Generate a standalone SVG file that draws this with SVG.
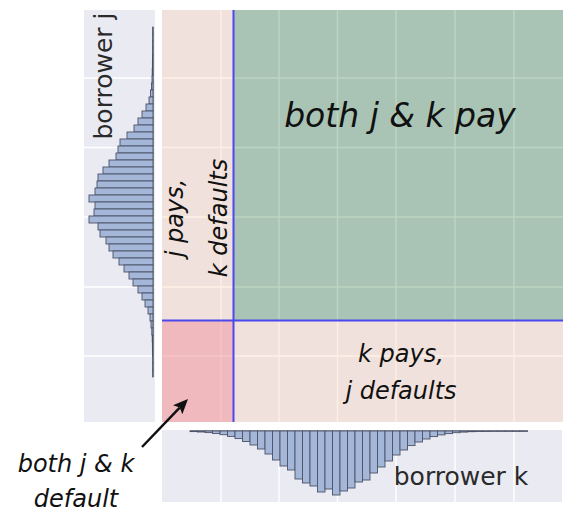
<svg xmlns="http://www.w3.org/2000/svg" xmlns:xlink="http://www.w3.org/1999/xlink" width="563" height="513" viewBox="0 0 563 513">
<style>
.panel{fill:#eaeaf2}
.wg{stroke:#ffffff;stroke-width:1.4}
.bar{fill:#a4b7d8;stroke:#4c5266;stroke-width:0.9}
.base{stroke:#4c5266;stroke-width:1}
.lab{font-family:"DejaVu Sans",sans-serif;font-style:oblique;fill:#111}
.ax{font-family:"DejaVu Sans",sans-serif;fill:#2a2a2a;font-size:25px}
.blue{stroke:#4a48ee;stroke-width:2;fill:none}
</style>
<defs>
<g id="grid">
<line x1="221" y1="10" x2="221" y2="422"/>
<line x1="279" y1="10" x2="279" y2="422"/>
<line x1="337.5" y1="10" x2="337.5" y2="422"/>
<line x1="396" y1="10" x2="396" y2="422"/>
<line x1="455" y1="10" x2="455" y2="422"/>
<line x1="514" y1="10" x2="514" y2="422"/>
<line x1="162" y1="78" x2="563" y2="78"/>
<line x1="162" y1="147.5" x2="563" y2="147.5"/>
<line x1="162" y1="217" x2="563" y2="217"/>
<line x1="162" y1="287" x2="563" y2="287"/>
<line x1="162" y1="356" x2="563" y2="356"/>
</g>
<clipPath id="cg"><rect x="233" y="10" width="330" height="310"/></clipPath>
<clipPath id="cr"><rect x="162" y="320" width="71" height="102"/></clipPath>
<marker id="ah" viewBox="0 0 15 13" refX="3" refY="6.5" markerWidth="15" markerHeight="13" markerUnits="userSpaceOnUse" orient="auto">
<path d="M0,0 L15,6.5 L0,13 L3,6.5 z" fill="#111"/>
</marker>
</defs>

<g id="main-panel">
<rect x="162" y="10" width="401" height="412" fill="#f1e1dc"/>
<use xlink:href="#grid" stroke="#fcf0e6" stroke-width="1.4"/>
<rect id="both-pay" x="233" y="10" width="330" height="310" fill="#a9c4b5"/>
<use xlink:href="#grid" stroke="#bcd5c2" stroke-width="1.4" clip-path="url(#cg)"/>
<rect id="both-default" x="162" y="320" width="71" height="102" fill="#f0b9be"/>
<use xlink:href="#grid" stroke="#f4c5c8" stroke-width="1.4" clip-path="url(#cr)"/>
<line class="blue" x1="233.5" y1="10" x2="233.5" y2="422"/>
<line class="blue" x1="162" y1="320.5" x2="563" y2="320.5"/>
</g>

<g id="left-hist">
<rect class="panel" x="84" y="10" width="71" height="412"/>
<g class="wg">
<line x1="84" y1="78" x2="155" y2="78"/>
<line x1="84" y1="147.5" x2="155" y2="147.5"/>
<line x1="84" y1="217" x2="155" y2="217"/>
<line x1="84" y1="287" x2="155" y2="287"/>
<line x1="84" y1="356" x2="155" y2="356"/>
</g>
<line class="base" x1="153" y1="27" x2="153" y2="377"/>
<g class="bar">
<rect x="152.7" y="27" width="0.3" height="7"/>
<rect x="152.7" y="34" width="0.3" height="7"/>
<rect x="152.6" y="41" width="0.4" height="7"/>
<rect x="152.6" y="48" width="0.4" height="7"/>
<rect x="152.5" y="55" width="0.5" height="7"/>
<rect x="152.4" y="62" width="0.6" height="7"/>
<rect x="152.2" y="69" width="0.8" height="7"/>
<rect x="152" y="76" width="1" height="7"/>
<rect x="151.5" y="83" width="1.5" height="7"/>
<rect x="150.5" y="90" width="2.5" height="7"/>
<rect x="149" y="97" width="4" height="7"/>
<rect x="146" y="104" width="7" height="7"/>
<rect x="142" y="111" width="11" height="7"/>
<rect x="138" y="118" width="15" height="7"/>
<rect x="134" y="125" width="19" height="7"/>
<rect x="127" y="132" width="26" height="7"/>
<rect x="120" y="139" width="33" height="7"/>
<rect x="118" y="146" width="35" height="7"/>
<rect x="116" y="153" width="37" height="7"/>
<rect x="109" y="160" width="44" height="7"/>
<rect x="103" y="167" width="50" height="7"/>
<rect x="98" y="174" width="55" height="7"/>
<rect x="97" y="181" width="56" height="7"/>
<rect x="95" y="188" width="58" height="7"/>
<rect x="89" y="195" width="64" height="7"/>
<rect x="95" y="202" width="58" height="7"/>
<rect x="94" y="209" width="59" height="7"/>
<rect x="89" y="216" width="64" height="7"/>
<rect x="98" y="223" width="55" height="7"/>
<rect x="100" y="230" width="53" height="7"/>
<rect x="106" y="237" width="47" height="7"/>
<rect x="109" y="244" width="44" height="7"/>
<rect x="113" y="251" width="40" height="7"/>
<rect x="119" y="258" width="34" height="7"/>
<rect x="124" y="265" width="29" height="7"/>
<rect x="129" y="272" width="24" height="7"/>
<rect x="133" y="279" width="20" height="7"/>
<rect x="138" y="286" width="15" height="7"/>
<rect x="142" y="293" width="11" height="7"/>
<rect x="145" y="300" width="8" height="7"/>
<rect x="148" y="307" width="5" height="7"/>
<rect x="150" y="314" width="3" height="7"/>
<rect x="151" y="321" width="2" height="7"/>
<rect x="151.8" y="328" width="1.2" height="7"/>
<rect x="152.2" y="335" width="0.8" height="7"/>
<rect x="152.4" y="342" width="0.6" height="7"/>
<rect x="152.5" y="349" width="0.5" height="7"/>
<rect x="152.7" y="356" width="0.3" height="7"/>
<rect x="152.7" y="363" width="0.3" height="7"/>
<rect x="152.7" y="370" width="0.3" height="7"/>
</g>
<text class="ax" transform="translate(112,76) rotate(-90)" text-anchor="middle">borrower j</text>
</g>

<g id="bottom-hist">
<rect class="panel" x="162" y="430" width="400" height="72"/>
<g class="wg">
<line x1="221" y1="430" x2="221" y2="502"/>
<line x1="279" y1="430" x2="279" y2="502"/>
<line x1="337.5" y1="430" x2="337.5" y2="502"/>
<line x1="396" y1="430" x2="396" y2="502"/>
<line x1="455" y1="430" x2="455" y2="502"/>
<line x1="514" y1="430" x2="514" y2="502"/>
</g>
<line class="base" x1="190" y1="431" x2="528" y2="431"/>
<g class="bar">
<rect x="190" y="431" width="7.5" height="0.6"/>
<rect x="197.5" y="431" width="7.5" height="1"/>
<rect x="205" y="431" width="7.5" height="1.6"/>
<rect x="212.5" y="431" width="7.5" height="2.5"/>
<rect x="220" y="431" width="7.5" height="3.7"/>
<rect x="227.5" y="431" width="7.5" height="5.4"/>
<rect x="235" y="431" width="7.5" height="7.6"/>
<rect x="242.5" y="431" width="7.5" height="10.5"/>
<rect x="250" y="431" width="7.5" height="14"/>
<rect x="257.5" y="431" width="7.5" height="18"/>
<rect x="265" y="431" width="7.5" height="23"/>
<rect x="272.5" y="431" width="7.5" height="29"/>
<rect x="280" y="431" width="7.5" height="35"/>
<rect x="287.5" y="431" width="7.5" height="39"/>
<rect x="295" y="431" width="7.5" height="48"/>
<rect x="302.5" y="431" width="7.5" height="52"/>
<rect x="310" y="431" width="7.5" height="55"/>
<rect x="317.5" y="431" width="7.5" height="61"/>
<rect x="325" y="431" width="7.5" height="58"/>
<rect x="332.5" y="431" width="7.5" height="64"/>
<rect x="340" y="431" width="7.5" height="60"/>
<rect x="347.5" y="431" width="7.5" height="57"/>
<rect x="355" y="431" width="7.5" height="51"/>
<rect x="362.5" y="431" width="7.5" height="49"/>
<rect x="370" y="431" width="7.5" height="42"/>
<rect x="377.5" y="431" width="7.5" height="36"/>
<rect x="385" y="431" width="7.5" height="30"/>
<rect x="392.5" y="431" width="7.5" height="24"/>
<rect x="400" y="431" width="7.5" height="19"/>
<rect x="407.5" y="431" width="7.5" height="14.6"/>
<rect x="415" y="431" width="7.5" height="11"/>
<rect x="422.5" y="431" width="7.5" height="8"/>
<rect x="430" y="431" width="7.5" height="5.6"/>
<rect x="437.5" y="431" width="7.5" height="3.9"/>
<rect x="445" y="431" width="7.5" height="2.6"/>
<rect x="452.5" y="431" width="7.5" height="1.7"/>
<rect x="460" y="431" width="7.5" height="1.1"/>
<rect x="467.5" y="431" width="7.5" height="0.7"/>
<rect x="475" y="431" width="7.5" height="0.5"/>
<rect x="482.5" y="431" width="7.5" height="0.4"/>
<rect x="490" y="431" width="7.5" height="0.3"/>
<rect x="497.5" y="431" width="7.5" height="0.3"/>
<rect x="505" y="431" width="7.5" height="0.3"/>
<rect x="512.5" y="431" width="7.5" height="0.3"/>
<rect x="520" y="431" width="7.5" height="0.3"/>
</g>
<text class="ax" x="461" y="485" text-anchor="middle">borrower k</text>
</g>

<g id="labels">
<text id="t-both-pay" class="lab" x="400" y="127" font-size="33" text-anchor="middle">both j &amp; k pay</text>
<text id="t-jpays" class="lab" font-size="24" text-anchor="middle" transform="translate(183,218) rotate(-90)">j pays,</text>
<text id="t-kdef" class="lab" font-size="24" text-anchor="middle" transform="translate(226.5,218) rotate(-90)">k defaults</text>
<text id="t-kpays" class="lab" font-size="24" text-anchor="middle" x="401" y="362">k pays,</text>
<text id="t-jdef" class="lab" font-size="24" text-anchor="middle" x="401" y="399">j defaults</text>
<text id="t-bothdef1" class="lab" font-size="24" text-anchor="middle" x="76" y="472">both j &amp; k</text>
<text id="t-bothdef2" class="lab" font-size="24" text-anchor="middle" x="76" y="507">default</text>
</g>

<g id="connectors">
<line x1="142" y1="447" x2="179.7" y2="407.6" stroke="#111" stroke-width="2.5" marker-end="url(#ah)"/>
</g>
</svg>
